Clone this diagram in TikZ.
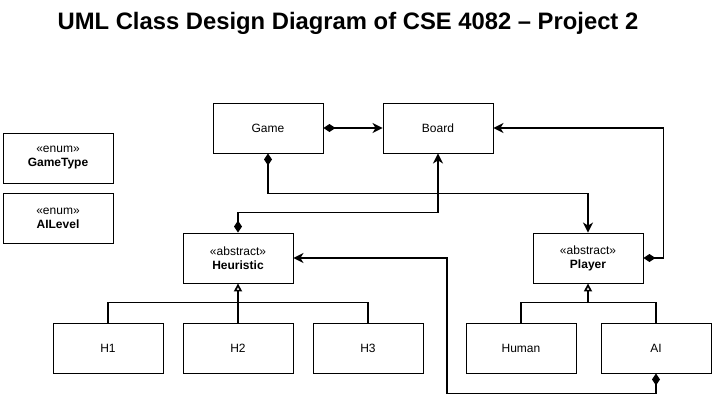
\documentclass[tikz,border=0pt]{standalone}
\usepackage{fontspec}
\setmainfont{Liberation Sans}
\usetikzlibrary{arrows.meta}
\begin{document}
\begin{tikzpicture}[x=1pt,y=-1pt,
  cls/.style={draw, line width=0.9pt, minimum width=110pt, minimum height=50pt, inner sep=0pt,
    font=\fontsize{12}{14}\selectfont, align=center},
  conn/.style={line width=1.7pt, line join=miter},
  comp/.style={{Diamond[length=12pt,width=8pt]}-{Stealth[length=10pt,width=10pt,inset=3pt]}},
  inh/.style={-{Triangle[open,length=8pt,width=8pt]}}]
\useasboundingbox (0,0) rectangle (715,407);
\node (title) at (348,23) {\fontsize{23.8}{28}\selectfont\bfseries UML Class Design Diagram of CSE 4082 – Project 2};

\node[cls] (game) at (268,128) {Game};
\node[cls] (board) at (438,128) {Board};
\node[cls] (heur) at (238,258) {«abstract»\\\textbf{Heuristic}};
\node[cls] (player) at (588,258) {«abstract»\\\textbf{Player}};
\node[cls] (h1) at (108,348) {H1};
\node[cls] (h2) at (238,348) {H2};
\node[cls] (h3) at (368,348) {H3};
\node[cls] (human) at (521,348) {Human};
\node[cls] (ai) at (656,348) {AI};
\node[cls] (gt) at (58,158) {«enum»\\\textbf{GameType}};
\node[cls] (al) at (58,218) {«enum»\\\textbf{AILevel}};

\coordinate (hj) at (238,303);
\coordinate (pj) at (588,303);
\coordinate (k) at (447,258);

\draw[conn, comp] (game.east) -- (board.west);
\draw[conn, comp] (game.south) -- ++(0,40) -| (player.north);
\draw[conn, comp] (heur.north) -- ++(0,-20) -| (board.south);
\draw[conn, comp] (player.east) -- ++(20,0) |- (board.east);
\draw[conn, comp] (ai.south) -- ++(0,20) -| (k) -- (heur.east);

\draw[conn] (h1.north) -- ++(0,-20) -| (h3.north);
\draw[conn, inh] (h2.north) -- (heur.south);
\draw[conn] (human.north) -- ++(0,-20) -| (ai.north);
\draw[conn, inh] (pj) -- (player.south);
\end{tikzpicture}
\end{document}
